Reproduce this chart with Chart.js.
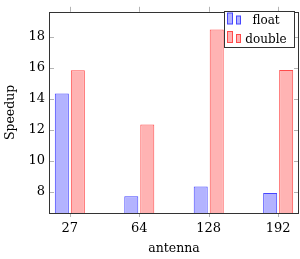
<!DOCTYPE html>
<html>
<head>
<meta charset="utf-8">
<script src="https://cdn.jsdelivr.net/npm/chart.js@4/dist/chart.umd.min.js"></script>
<style>
  body { margin: 0; background: #fff; }
  canvas { display: block; }
</style>
</head>
<body>
<canvas id="speedupChart" width="300" height="259"></canvas>
<script>
// values
var antennas = ['27', '64', '128', '192'];
var floatSpeedup = [14.35, 7.7, 8.33, 7.92];
var doubleSpeedup = [15.85, 12.35, 18.48, 15.87];
var yTicks = [8, 10, 12, 14, 16, 18];

var FONT = '"DejaVu Serif", serif';

// frame + pgfplots style tick marks (y inside, x outside)
var framePlugin = {
  id: 'frame',
  afterDatasetsDraw: function (chart) {
    var ctx = chart.ctx, a = chart.chartArea;
    var xs = chart.scales.x, ys = chart.scales.y;
    ctx.save();
    ctx.strokeStyle = '#b4b4b4';
    ctx.lineWidth = 1;
    ctx.beginPath();
    yTicks.forEach(function (t) {
      var py = Math.round(ys.getPixelForValue(t)) + 0.5;
      ctx.moveTo(a.left, py); ctx.lineTo(a.left + 5, py);
      ctx.moveTo(a.right, py); ctx.lineTo(a.right - 5, py);
    });
    antennas.forEach(function (_, i) {
      var px = Math.round(xs.getPixelForValue(i)) + 0.5;
      ctx.moveTo(px, a.bottom); ctx.lineTo(px, a.bottom + 4);
      ctx.moveTo(px, a.top); ctx.lineTo(px, a.top - 5);
    });
    ctx.stroke();
    ctx.strokeStyle = '#333';
    ctx.strokeRect(Math.round(a.left) + 0.5, Math.round(a.top) + 0.5,
      Math.round(a.right - a.left) - 1, Math.round(a.bottom - a.top));
    ctx.restore();
  },
  afterDraw: function (chart) {
    // legend box inside the plot, top right
    var ctx = chart.ctx;
    var x0 = 224, y0 = 11, w = 70, h = 36;
    ctx.save();
    ctx.fillStyle = '#fff';
    ctx.fillRect(x0, y0, w, h);
    ctx.strokeStyle = '#333';
    ctx.lineWidth = 1;
    ctx.strokeRect(x0 + 0.5, y0 + 0.5, w, h);
    ctx.font = '12px ' + FONT;
    ctx.textAlign = 'center';
    ctx.textBaseline = 'alphabetic';
    chart.data.datasets.forEach(function (ds, i) {
      var base = y0 + 13 + i * 18.5;
      ctx.fillStyle = ds.backgroundColor;
      ctx.strokeStyle = ds.borderColor;
      ctx.fillRect(x0 + 3.5, base - 11, 5, 11);
      ctx.strokeRect(x0 + 3.5, base - 11, 5, 11);
      ctx.fillRect(x0 + 12.5, base - 8, 4, 8);
      ctx.strokeRect(x0 + 12.5, base - 8, 4, 8);
      ctx.fillStyle = '#000';
      ctx.fillText(ds.label, x0 + 42, base);
    });
    ctx.restore();
  }
};

new Chart(document.getElementById('speedupChart'), {
  type: 'bar',
  data: {
    datasets: [{
        label: 'float',
        data: floatSpeedup.map(function (v, i) { return { x: i, y: v }; }),
        backgroundColor: 'rgb(179, 179, 255)',
        borderColor: 'rgb(70, 70, 255)',
        borderWidth: 1,
        categoryPercentage: 0.461,
        barPercentage: 0.875
      },
      {
        label: 'double',
        data: doubleSpeedup.map(function (v, i) { return { x: i, y: v }; }),
        backgroundColor: 'rgb(255, 179, 179)',
        borderColor: 'rgb(255, 75, 75)',
        borderWidth: 1,
        categoryPercentage: 0.461,
        barPercentage: 0.875
      }
    ]
  },
  options: {
    responsive: false,
    devicePixelRatio: 1,
    animation: false,
    layout: { padding: { top: 5, right: 1, left: 0, bottom: 0 } },
    plugins: { legend: { display: false }, tooltip: { enabled: false } },
    scales: {
      x: {
        type: 'linear',
        offset: false,
        min: -0.3,
        max: 3.3,
        afterBuildTicks: function (s) { s.ticks = antennas.map(function (_, i) { return { value: i }; }); },
        afterFit: function (s) { s.height = 46; },
        grid: { display: false, drawTicks: false, offset: false },
        border: { display: false },
        ticks: {
          padding: 8,
          color: '#000',
          font: { family: FONT, size: 13 },
          callback: function (v) { return antennas[v]; }
        },
        title: { display: true, text: 'antenna', color: '#000', font: { family: FONT, size: 12.5 }, padding: { top: 0, bottom: 3 } }
      },
      y: {
        min: 6.625,
        max: 19.625,
        afterBuildTicks: function (s) { s.ticks = yTicks.map(function (t) { return { value: t }; }); },
        afterFit: function (s) { s.width = 49; },
        grid: { display: false, drawTicks: false },
        border: { display: false },
        ticks: { padding: 4, color: '#000', font: { family: FONT, size: 13 } },
        title: { display: true, text: 'Speedup', color: '#000', font: { family: FONT, size: 12.5 }, padding: { top: 3, bottom: 0 } }
      }
    }
  },
  plugins: [framePlugin]
});
</script>
</body>
</html>
